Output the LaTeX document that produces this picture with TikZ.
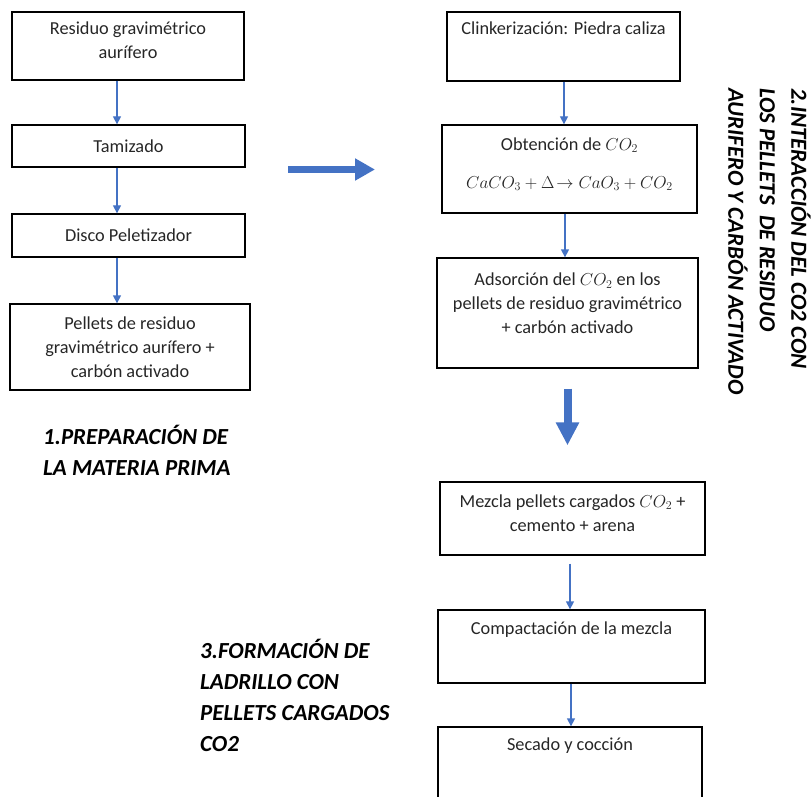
\documentclass[tikz,border=0pt]{standalone}
\usepackage{fontspec}
\setmainfont{Carlito}
\usetikzlibrary{arrows.meta,positioning}
\definecolor{azulflecha}{HTML}{4472C4}

\begin{document}
\begin{tikzpicture}[x=1pt, y=-1pt,
    caja/.style={draw=black, line width=1.3pt, align=center, inner sep=0pt,
      text=black!85, font=\fontsize{18.3}{24}\selectfont},
    texto/.style={align=center, inner sep=0pt, text=black!85,
      font=\fontsize{18.3}{24}\selectfont},
    titulo/.style={align=left, inner sep=0pt,
      font=\fontsize{23}{31}\selectfont\bfseries\itshape},
    flechita/.style={draw=azulflecha, line width=1.3pt,
      -{Triangle[width=8pt,length=8pt]}},
    flechota/.style={draw=azulflecha, line width=8pt,
      -{Triangle[width=22pt,length=23pt]}}]
  \useasboundingbox (0,0) rectangle (812,797);
  \clip (0,0) rectangle (812,797);

  % 1. preparacion de la materia prima
  \node[caja, minimum width=232pt, minimum height=68pt] (residuo) at (128,46) {};
  \node[texto] (residuo-t) at ([yshift=-29pt]residuo.north) {Residuo gravimétrico\\aurífero};
  \node[caja, minimum width=233pt, minimum height=42pt] (tamiz) at (128.5,146) {Tamizado};
  \node[caja, minimum width=233pt, minimum height=43pt] (disco) at (128.5,235.5) {Disco Peletizador};
  \node[caja, minimum width=240pt, minimum height=86pt] (pellets) at (130,347)
    {Pellets de residuo\\gravimétrico aurífero +\\carbón activado};
  \draw[flechita] ([xshift=-11pt]residuo.south) -- ([xshift=-11pt]residuo.south |- tamiz.north);
  \draw[flechita] ([xshift=-11.5pt]tamiz.south) -- ([xshift=-11.5pt]tamiz.south |- disco.north);
  \draw[flechita] ([xshift=-11.5pt]disco.south) -- ([xshift=-11.5pt]disco.south |- pellets.north);
  \node[titulo, anchor=north west] (prep) at (43,425) {1.PREPARACIÓN DE\\LA MATERIA PRIMA};

  % paso a la columna derecha
  \coordinate (envio-a) at (288,169.5);
  \coordinate (envio-b) at (375,169.5);
  \draw[flechota, line width=7pt, -{Triangle[width=21pt,length=20pt]}] (envio-a) -- (envio-b);

  % 2. interaccion del CO2
  \node[caja, minimum width=233pt, minimum height=69pt] (clinker) at (563.5,46.5) {};
  \node[texto] (clinker-t) at ([yshift=-17pt]clinker.north) {Clinkerización: Piedra caliza};
  \node[caja, minimum width=255pt, minimum height=88pt] (obten) at (569.5,169) {};
  \node[texto] (obten-t) at ([yshift=-40pt]obten.north)
    {Obtención de $CO_2$\\[14pt]$CaCO_3+\Delta\!\rightarrow CaO_3+CO_2$};
  \node[caja, minimum width=261pt, minimum height=110pt] (adsor) at (567.5,313) {};
  \node[texto] (adsor-t) at ([yshift=-46pt]adsor.north)
    {Adsorción del $CO_2$ en los\\pellets de residuo gravimétrico\\+ carbón activado};
  \draw[flechita] ([xshift=0.5pt]clinker.south) -- ([xshift=0.5pt]clinker.south |- obten.north);
  \draw[flechita] ([xshift=-4.5pt]obten.south) -- ([xshift=-4.5pt]obten.south |- adsor.north);
  \node[titulo, rotate=-90, anchor=north west, font=\fontsize{23}{31.5}\selectfont\bfseries\itshape] (interac) at (811,88)
    {2.INTERACCIÓN DEL CO2 CON\\LOS PELLETS\ \ DE RESIDUO\\AURIFERO Y CARBÓN ACTIVADO};

  % 3. formacion del ladrillo
  \node[caja, minimum width=265pt, minimum height=73pt] (mezcla) at (572.5,518.5) {};
  \node[texto] (mezcla-t) at ([yshift=-31.5pt]mezcla.north)
    {Mezcla pellets cargados $CO_2$ +\\cemento + arena};
  \node[caja, minimum width=267pt, minimum height=73pt] (compac) at (571.5,646.5) {};
  \node[texto] (compac-t) at ([yshift=-20pt]compac.north) {Compactación de la mezcla};
  \node[caja, minimum width=264pt, minimum height=93pt] (secado) at (570,773.5) {};
  \node[texto] (secado-t) at ([yshift=-19pt]secado.north) {Secado y cocción};
  \draw[flechota, shorten <=20pt, shorten >=36pt] (adsor.south) -- (adsor.south |- mezcla.north);
  \draw[flechita, shorten <=8pt] ([xshift=-2.5pt]mezcla.south) -- ([xshift=-2.5pt]mezcla.south |- compac.north);
  \draw[flechita] ([xshift=-0.5pt]compac.south) -- ([xshift=-0.5pt]compac.south |- secado.north);
  \node[titulo, anchor=north west] (ladrillo) at (200,638.5)
    {3.FORMACIÓN DE\\LADRILLO CON\\PELLETS CARGADOS\\CO2};
\end{tikzpicture}
\end{document}
